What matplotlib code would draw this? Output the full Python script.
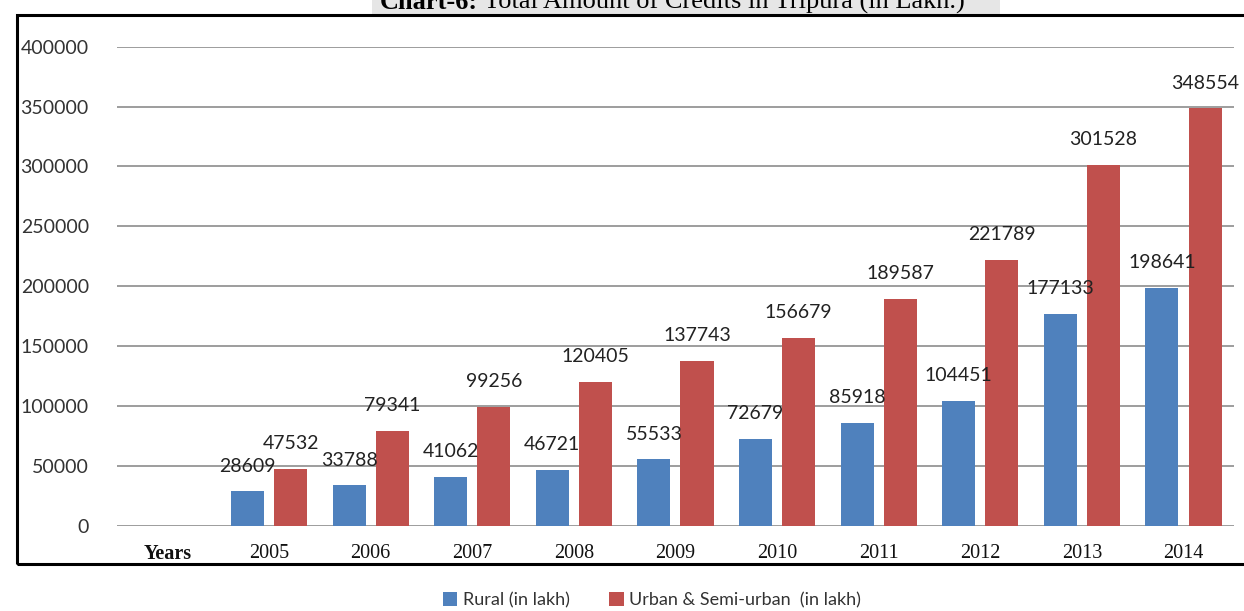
import matplotlib
matplotlib.use("Agg")
import matplotlib.pyplot as plt
import numpy as np
from matplotlib.patches import Rectangle

categories = ["Years", "2005", "2006", "2007", "2008", "2009", "2010", "2011", "2012", "2013", "2014"]
rural = [None, 28609, 33788, 41062, 46721, 55533, 72679, 85918, 104451, 177133, 198641]
urban = [None, 47532, 79341, 99256, 120405, 137743, 156679, 189587, 221789, 301528, 348554]
yticks = [0, 50000, 100000, 150000, 200000, 250000, 300000, 350000, 400000]

BLUE = "#4F81BD"
RED = "#C0504D"
sans = ["Lato", "DejaVu Sans"]
serif = ["Liberation Serif", "DejaVu Serif"]

W, H = 1244, 611
fig = plt.figure(figsize=(W / 100, H / 100), dpi=100)

ax = fig.add_axes([116.6 / W, 1 - 525.7 / H, (1234.3 - 116.6) / W, (525.7 - 46.7) / H])

x = np.arange(len(categories))
bw = 0.325
off = 0.212
idx = [i for i, v in enumerate(rural) if v is not None]
rv = [rural[i] for i in idx]
uv = [urban[i] for i in idx]
xi = np.array(idx, dtype=float)
b1 = ax.bar(xi - off, rv, bw, color=BLUE, label="Rural (in lakh)", zorder=3)
b2 = ax.bar(xi + off, uv, bw, color=RED, label="Urban & Semi-urban  (in lakh)", zorder=3)

for bars, vals in ((b1, rv), (b2, uv)):
    for rect, v in zip(bars, vals):
        ax.annotate(f"{v}", (rect.get_x() + rect.get_width() / 2, v),
                    xytext=(0, 12), textcoords="offset points",
                    ha="center", va="bottom", fontsize=14, family=sans,
                    color="#222222", zorder=4)

ax.set_xlim(-0.5, len(categories) - 0.5)
ax.set_ylim(0, 400000)
ax.set_yticks(yticks)
ax.set_yticklabels([str(t) for t in yticks], family=sans, fontsize=14, color="#333333")
ax.yaxis.grid(True, color="#8c8c8c", linewidth=1.2, zorder=0)
ax.set_axisbelow(True)
ax.tick_params(axis="y", length=0, pad=20)
ax.tick_params(axis="x", length=0, pad=13)
ax.set_xticks(x)
ax.set_xticklabels(categories, family=serif, fontsize=14.5, color="#111111")
ax.get_xticklabels()[0].set_fontweight("bold")
for s in ax.spines.values():
    s.set_visible(False)

# faint grey band behind the (cut-off) title, as in the scanned reference
fig.patches.append(Rectangle((372 / W, 1 - 14 / H), (1000 - 372) / W, 14 / H,
                             transform=fig.transFigure, facecolor="#e6e6e6",
                             edgecolor="none", zorder=0))

# outer frame
fig.patches.append(Rectangle((17 / W, 1 - 564 / H), (1260 - 17) / W, (564 - 15) / H,
                             transform=fig.transFigure, fill=False,
                             edgecolor="black", linewidth=2.2, clip_on=False))

# title (partially cut at top as in the reference)
t1 = fig.text(380 / W, 1 - 9 / H, "Chart-6:", family=serif, fontsize=19,
              fontweight="bold", ha="left", va="baseline")
fig.canvas.draw()
bb = t1.get_window_extent()
fig.text((bb.x1 + 6) / W, 1 - 9 / H, "Total Amount of Credits in Tripura (in Lakh.)",
         family=serif, fontsize=19, ha="left", va="baseline")

leg = fig.legend(handles=[b1, b2], loc="center", bbox_to_anchor=(652 / W, 1 - 600 / H),
                 ncol=2, frameon=False, prop={"family": sans, "size": 13},
                 handlelength=0.8, handleheight=0.8, handletextpad=0.3,
                 columnspacing=2.2)
for t in leg.get_texts():
    t.set_color("#333333")

fig.savefig("out.png", dpi=100)
